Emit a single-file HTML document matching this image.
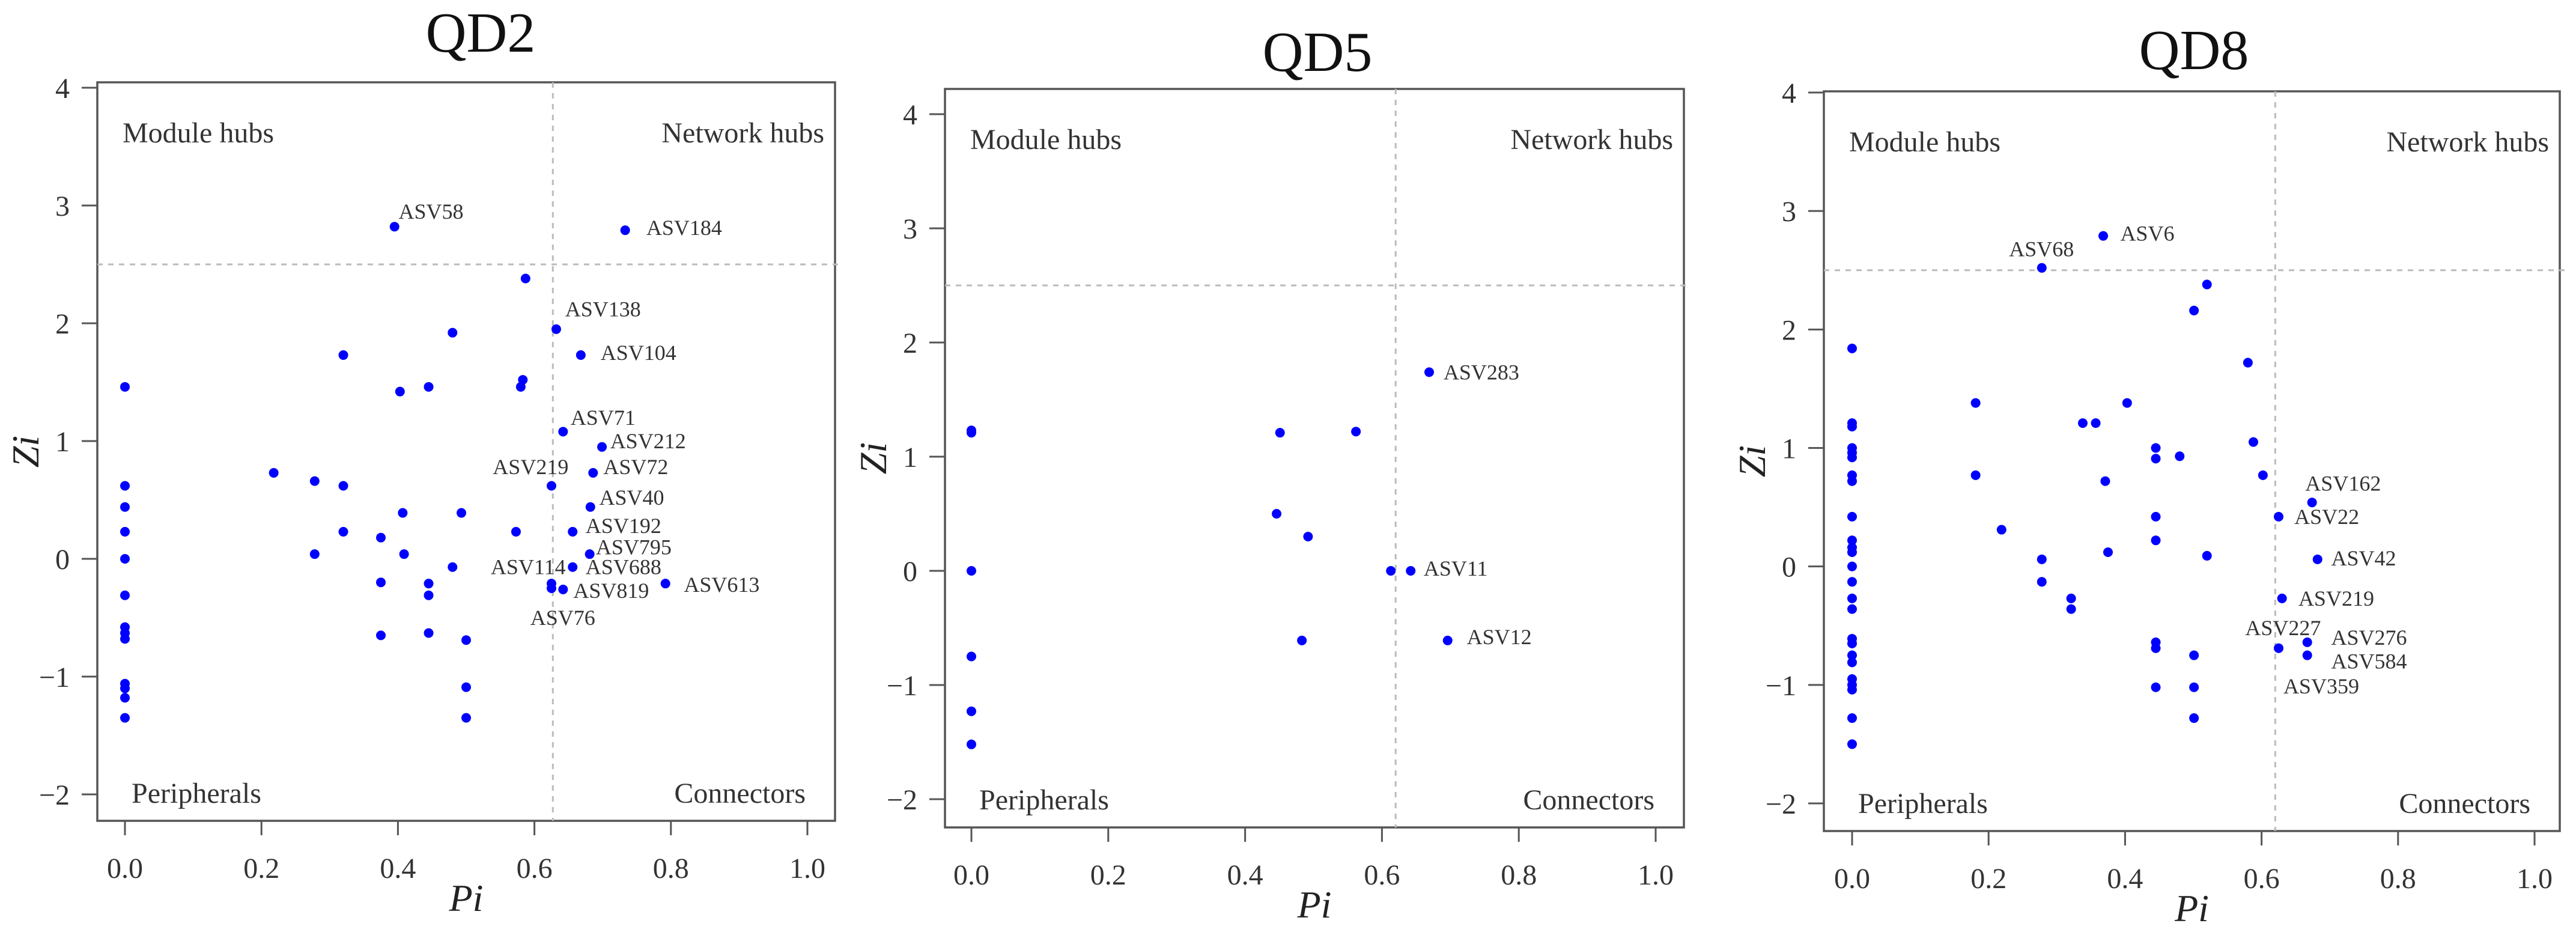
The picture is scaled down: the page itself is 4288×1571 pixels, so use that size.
<!DOCTYPE html>
<html><head><meta charset="utf-8"><style>
html,body{margin:0;padding:0;background:#fff;}
svg{display:block;font-family:"Liberation Serif",serif;}
</style></head><body>
<svg id="fig" width="4288" height="1571" viewBox="0 0 4288 1571" xmlns="http://www.w3.org/2000/svg"></svg>
<script>
// ---------- data ----------
const xTicks=[0,0.2,0.4,0.6,0.8,1.0];
const xTickLabels=["0.0","0.2","0.4","0.6","0.8","1.0"];
const yTicks=[-2,-1,0,1,2,3,4];
const yTickLabels=["\u22122","\u22121","0","1","2","3","4"];
const piThresholds=[0.627,0.62,0.62];
const ziThreshold=2.5;

const qd2Pi=[0.395,0.733,0.587,0.632,0.48,0.32,0.668,0,0.403,0.445,0.583,0.58,0.642,0.699,0.218,0.278,0.32,0.625,0.686,0,0,0.682,0.407,0.493,0,0.32,0.573,0.656,0.375,0.278,0.409,0.681,0,0.48,0.656,0.375,0.445,0.445,0.625,0.625,0.642,0.792,0,0,0,0,0.375,0.445,0.5,0,0,0,0.5,0,0.5];
const qd2Zi=[2.82,2.79,2.38,1.95,1.92,1.73,1.73,1.46,1.42,1.46,1.52,1.46,1.08,0.95,0.73,0.66,0.62,0.62,0.73,0.62,0.44,0.44,0.39,0.39,0.23,0.23,0.23,0.23,0.18,0.04,0.04,0.04,0,-0.07,-0.07,-0.2,-0.21,-0.31,-0.21,-0.25,-0.26,-0.21,-0.31,-0.58,-0.63,-0.68,-0.65,-0.63,-0.69,-1.06,-1.1,-1.18,-1.09,-1.35,-1.35];
const qd2Labels=["ASV58","ASV184","ASV138","ASV104","ASV71","ASV212","ASV219","ASV72","ASV40","ASV192","ASV795","ASV114","ASV688","ASV819","ASV613","ASV76"];
const qd2LabelPi=[0.401,0.764,0.645,0.697,0.653,0.711,0.539,0.701,0.695,0.675,0.69,0.536,0.675,0.657,0.819,0.594];
const qd2LabelZi=[2.95,2.81,2.12,1.75,1.2,1.0,0.78,0.78,0.52,0.28,0.10,-0.07,-0.07,-0.27,-0.22,-0.5];

const qd5Pi=[0,0,0,0,0,0,0.451,0.562,0.446,0.492,0.613,0.642,0.483,0.696,0.669];
const qd5Zi=[1.21,1.23,0,-0.75,-1.23,-1.52,1.21,1.22,0.5,0.3,0,0,-0.61,-0.61,1.74];
const qd5Labels=["ASV283","ASV11","ASV12"];
const qd5LabelPi=[0.69,0.661,0.724];
const qd5LabelZi=[1.74,0.02,-0.58];

const qd8Pi=[0.368,0.278,0.52,0.501,0.58,0,0.181,0.403,0.338,0.357,0,0,0.588,0.445,0.445,0.48,0,0,0,0.181,0.602,0.371,0,0,0.674,0.625,0.445,0,0.219,0,0,0,0.445,0.375,0.52,0.278,0.682,0,0,0.278,0,0,0.321,0.321,0.63,0,0,0.445,0.445,0.625,0.667,0.667,0.501,0,0,0,0,0,0.445,0.501,0,0.501,0];
const qd8Zi=[2.79,2.52,2.38,2.16,1.72,1.84,1.38,1.38,1.21,1.21,1.21,1.18,1.05,1.0,0.91,0.93,1.0,0.96,0.92,0.77,0.77,0.72,0.77,0.72,0.54,0.42,0.42,0.42,0.31,0.22,0.16,0.12,0.22,0.12,0.09,0.06,0.06,0,-0.13,-0.13,-0.27,-0.36,-0.27,-0.36,-0.27,-0.61,-0.65,-0.64,-0.69,-0.69,-0.64,-0.75,-0.75,-0.75,-0.81,-0.95,-1.0,-1.04,-1.02,-1.02,-1.28,-1.28,-1.5];
const qd8Labels=["ASV6","ASV68","ASV162","ASV22","ASV42","ASV219","ASV227","ASV276","ASV584","ASV359"];
const qd8LabelPi=[0.393,0.23,0.664,0.648,0.702,0.654,0.576,0.702,0.702,0.632];
const qd8LabelZi=[2.81,2.68,0.70,0.42,0.07,-0.27,-0.52,-0.60,-0.80,-1.01];

// ---------- layout ----------
const panels=[
 {id:"qd2",title:"QD2",box:[162,137,1390,1366],x0:208,x1:1344,yTop:146,yBot:1322,titleX:800,titleY:86,pi:qd2Pi,zi:qd2Zi,lab:qd2Labels,lp:qd2LabelPi,lz:qd2LabelZi,thr:0},
 {id:"qd5",title:"QD5",box:[1573,148,2803,1377],x0:1617,x1:2756,yTop:190,yBot:1330,titleX:2193,titleY:118,pi:qd5Pi,zi:qd5Zi,lab:qd5Labels,lp:qd5LabelPi,lz:qd5LabelZi,thr:1},
 {id:"qd8",title:"QD8",box:[3036,152,4261,1383],x0:3083,x1:4219,yTop:154,yBot:1337,titleX:3652,titleY:115,pi:qd8Pi,zi:qd8Zi,lab:qd8Labels,lp:qd8LabelPi,lz:qd8LabelZi,thr:2}
];
const NS="http://www.w3.org/2000/svg";
const svg=document.getElementById('fig');
function mk(tag,attrs,parent,text){const e=document.createElementNS(NS,tag);for(const k in attrs)e.setAttribute(k,attrs[k]);if(text!==undefined)e.textContent=text;parent.appendChild(e);return e;}

panels.forEach(p=>{
 const g=mk('g',{},svg);
 
 
 const sx=v=>p.x0+(p.x1-p.x0)*v;
 const sy=v=>p.yBot-(p.yBot-p.yTop)*(v+2)/6;
 const [L,T,R,B]=p.box;
 const t=mk('text',{x:p.titleX,y:p.titleY,'text-anchor':'middle','font-size':94,fill:'#111'},g,p.title);
 
 
 const fr=mk('rect',{x:L,y:T,width:R-L,height:B-T,fill:'none',stroke:'#555','stroke-width':3.5},g);
 
 
 const vl=mk('line',{x1:sx(piThresholds[p.thr]),x2:sx(piThresholds[p.thr]),y1:T,y2:B,stroke:'#bbb','stroke-width':3,'stroke-dasharray':'9 9'},g);
 
 
 const hl=mk('line',{x1:L,x2:R+12,y1:sy(ziThreshold),y2:sy(ziThreshold),stroke:'#bbb','stroke-width':3,'stroke-dasharray':'9 9'},g);
 
 
 xTicks.forEach((v,i)=>{
  const x=sx(v);
  const tl=mk('line',{x1:x,x2:x,y1:B,y2:B+24,stroke:'#555','stroke-width':3},g);
  
  
  const tx=mk('text',{x:x,y:B+95,'text-anchor':'middle','font-size':48,fill:'#333'},g,xTickLabels[i]);
  
  
 });
 yTicks.forEach((v,i)=>{
  const y=sy(v);
  const tl=mk('line',{x1:L-26,x2:L,y1:y,y2:y,stroke:'#555','stroke-width':3},g);
  
  
  const tx=mk('text',{x:L-46,y:y+17,'text-anchor':'end','font-size':48,fill:'#333'},g,yTickLabels[i]);
  
  
 });
 const xl=mk('text',{x:(L+R)/2,y:B+150,'text-anchor':'middle','font-size':64,'font-style':'italic',fill:'#222'},g,'Pi');
 
 
 const yx=L-118,yy=(T+B)/2;
 const yl=mk('text',{x:yx,y:yy+20,'text-anchor':'middle','font-size':64,'font-style':'italic',fill:'#222',transform:`rotate(-90 ${yx} ${yy})`},g,'Zi');
 
 
 const q=[['Module hubs',L+42,T+100,'start'],['Network hubs',R-18,T+100,'end'],['Peripherals',L+57,B-30,'start'],['Connectors',R-49,B-30,'end']];
 q.forEach(a=>{
  const e=mk('text',{x:a[1],y:a[2],'text-anchor':a[3],'font-size':48,fill:'#333'},g,a[0]);
  
  
 });
 p.pi.forEach((v,i)=>{
  const c=mk('circle',{cx:sx(v),cy:sy(p.zi[i]),r:8,fill:'#0000ff'},g);
  
  
 });
 p.lab.forEach((s,i)=>{
  const e=mk('text',{x:sx(p.lp[i]),y:sy(p.lz[i])+12,'font-size':36,fill:'#333'},g,s);
  
  
 });
});
</script>
</body></html>
